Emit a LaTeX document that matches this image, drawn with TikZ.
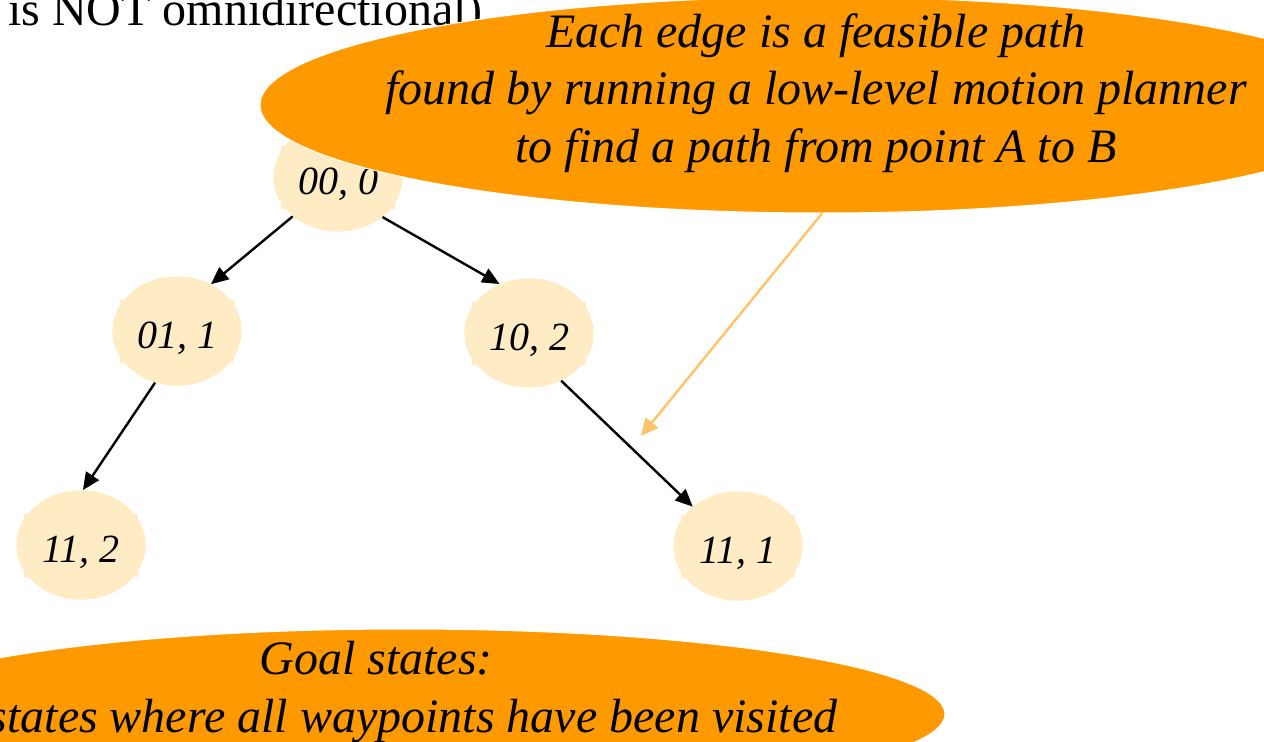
\documentclass[tikz,border=0pt]{standalone}
\usepackage{fontspec}
\setmainfont{Liberation Serif}
\usetikzlibrary{shapes.geometric,arrows.meta,backgrounds}
\definecolor{calloutorange}{RGB}{255,153,0}
\definecolor{statefill}{RGB}{255,235,196}
\definecolor{hintorange}{RGB}{255,194,102}
\tikzset{
  state/.style={ellipse, fill=statefill, inner sep=0pt, minimum width=97pt, minimum height=82pt,
    font=\fontsize{30}{36}\selectfont\itshape, text height=25.5pt, text depth=0pt},
  edge/.style={-{Triangle[length=13pt,width=11.5pt]}, line width=1.8pt},
  callout/.style={ellipse, fill=calloutorange, draw=white, line width=0.75pt, inner sep=0pt},
  callouttext/.style={align=center, font=\fontsize{36}{43.2}\selectfont\itshape}
}
\begin{document}
\begin{tikzpicture}[x=0.75pt,y=-0.75pt]
  \useasboundingbox (0,0) rectangle (1264,742);
  \clip (0,0) rectangle (1264,742);
  \node[anchor=base west, inner sep=0pt, font=\fontsize{36}{43.2}\selectfont] (remark) at (8,26) {is NOT omnidirectional)};

  \node[state] (s00) at (338,177) {00, 0};
  \node[state] (s01) at (177,331) {01, 1};
  \node[state] (s10) at (529,333) {10, 2};
  \node[state] (s11l) at (81,545) {11, 2};
  \node[state] (s11r) at (738,546) {11, 1};
  \begin{scope}[on background layer]
    \foreach \s in {s00,s01,s10,s11l,s11r}
      \fill[statefill] ([shift={(-57,-31.5)}]\s.center) rectangle ([shift={(57,31.5)}]\s.center);
  \end{scope}
  \draw[edge] (s00.221) -- (s01.54);
  \draw[edge] (s00.318) -- (s10.121);
  \draw[edge] (s01.247) -- (s11l.88);
  \draw[edge] (s10.304) -- (s11r.139);

  \node[callout, minimum width=843pt, minimum height=162pt] (note) at (822,105) {};
  \node[callouttext] (notetext) at (816,93) {Each edge is a feasible path\\found by running a low-level motion planner\\to find a path from point A to B};
  \node[callout, minimum width=810pt, minimum height=127.5pt] (goal) at (405,714) {};
  \node[callouttext] (goaltext) at (413,692) {Goal states:\hspace*{55pt}\\states where all waypoints have been visited};
  \coordinate (hint) at (641,436);
  \draw[-{Triangle[length=13pt,width=12pt]}, hintorange, line width=1.8pt] (note.south) -- (hint);
\end{tikzpicture}
\end{document}
